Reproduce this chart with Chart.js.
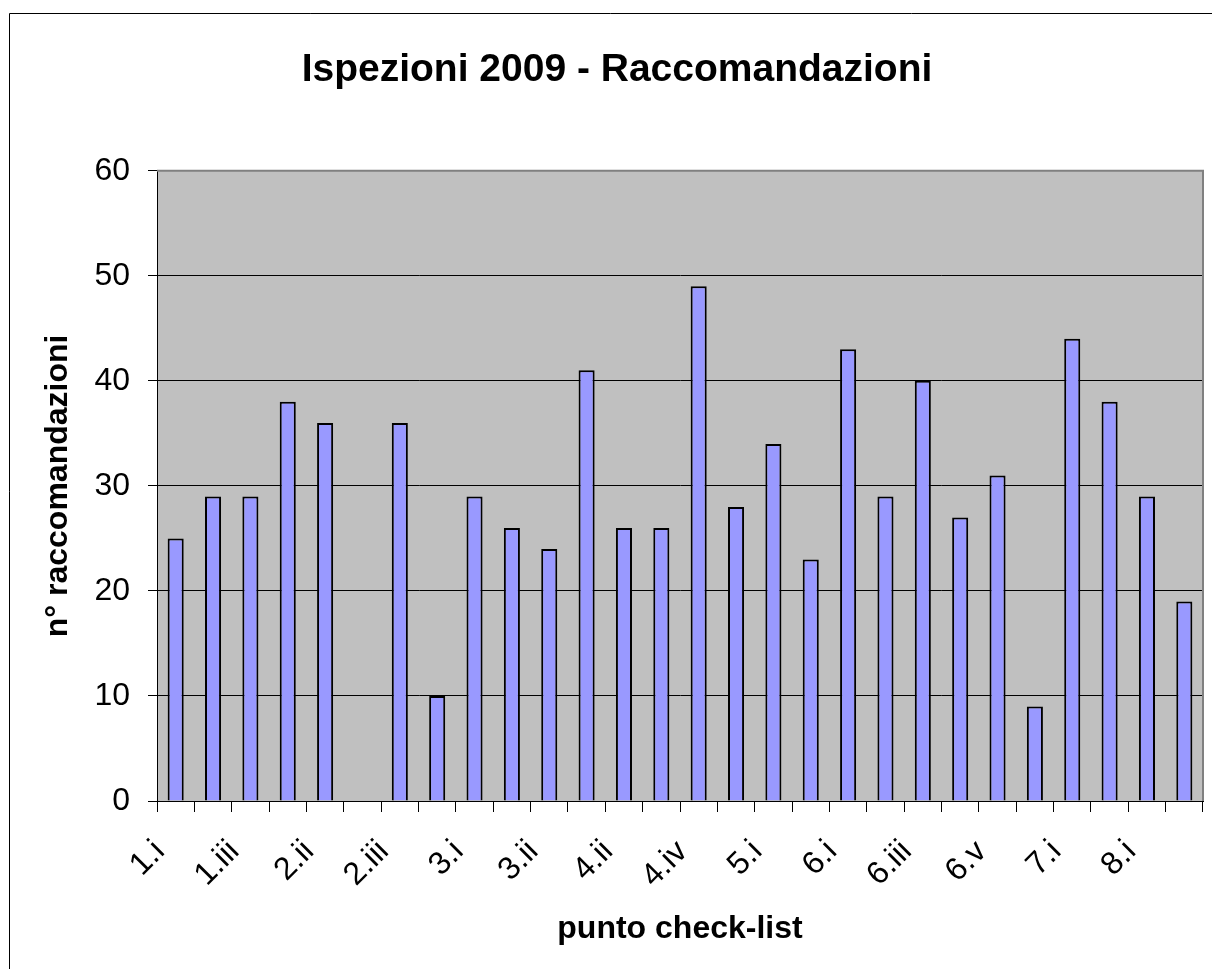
<!DOCTYPE html>
<html>
<head>
<meta charset="utf-8">
<script src="https://cdn.jsdelivr.net/npm/chart.js@4"></script>
<style>
  body { margin: 0; background: #fff; }
  canvas { display: block; }
</style>
</head>
<body>
<canvas id="chart" width="1212" height="969"></canvas>
<script>
// punti della check-list (mostrati uno sì e uno no, come nell'originale)
var categories = ['1.i', '1.ii', '1.iii', '2.i', '2.ii', '2.ii.b', '2.iii', '2.iv',
                  '3.i', '3.i.b', '3.ii', '4.i', '4.ii', '4.iii', '4.iv', '4.v',
                  '5.i', '5.ii', '6.i', '6.ii', '6.iii', '6.iv', '6.v', '6.vi',
                  '7.i', '7.ii', '8.i', '8.ii'];
var raccomandazioni = [25, 29, 29, 38, 36, 0, 36, 10,
                       29, 26, 24, 41, 26, 26, 49, 28,
                       34, 23, 43, 29, 40, 27, 31, 9,
                       44, 38, 29, 19];
var yTicks = [0, 10, 20, 30, 40, 50, 60];

var font = "'Liberation Sans', Arial, sans-serif";

// sfondo grigio dell'area del grafico e cornice esterna
var plotBg = {
    id: 'plotBg',
    beforeDraw: function(chart) {
        var c = chart.ctx, a = chart.chartArea;
        c.save();
        c.fillStyle = '#C0C0C0';
        c.fillRect(a.left, a.top, a.right - a.left, a.bottom - a.top);
        c.strokeStyle = '#000';
        c.lineWidth = 1;
        c.beginPath();
        c.moveTo(9.5, 969);
        c.lineTo(9.5, 13.5);
        c.lineTo(1212, 13.5);
        c.stroke();
        c.restore();
    },
    afterDatasetsDraw: function(chart) {
        var c = chart.ctx, a = chart.chartArea;
        c.save();
        c.strokeStyle = '#808080';
        c.lineWidth = 2;
        c.beginPath();
        c.moveTo(a.left, a.top);
        c.lineTo(a.right, a.top);
        c.lineTo(a.right, a.bottom);
        c.stroke();
        c.restore();
    }
};

var ctx = document.getElementById('chart').getContext('2d');
var myChart = new Chart(ctx, {
    type: 'bar',
    data: {
        labels: categories,
        datasets: [{
            label: 'n° raccomandazioni',
            data: raccomandazioni,
            backgroundColor: '#9999FF',
            borderColor: '#000',
            borderWidth: 2,
            barPercentage: 0.43,
            categoryPercentage: 1
        }]
    },
    options: {
        responsive: false,
        animation: false,
        layout: { padding: { left: 31, right: 9, top: 0, bottom: 0 } },
        plugins: {
            legend: { display: false },
            tooltip: { enabled: false },
            title: {
                display: true,
                text: 'Ispezioni 2009 - Raccomandazioni',
                color: '#000',
                font: { family: font, size: 39, weight: 'bold' },
                padding: { top: 47, bottom: 77 }
            }
        },
        scales: {
            x: {
                afterFit: function(scale) {
                    scale.height = 168;
                    scale.paddingLeft = 0;
                    scale.paddingRight = 0;
                },
                grid: { drawOnChartArea: false, color: '#000', tickLength: 11, offset: true },
                border: { color: '#000', width: 1 },
                ticks: {
                    autoSkip: false,
                    minRotation: 45,
                    maxRotation: 45,
                    padding: 21,
                    labelOffset: -16,
                    color: '#000',
                    font: { family: font, size: 32 },
                    callback: function(value, index) {
                        return index % 2 === 0 ? this.getLabelForValue(value) : '';
                    }
                },
                title: {
                    display: true,
                    text: 'punto check-list',
                    color: '#000',
                    font: { family: font, size: 32, weight: 'bold' },
                    padding: { top: 0, bottom: 21 }
                }
            },
            y: {
                min: yTicks[0],
                max: yTicks[yTicks.length - 1],
                afterFit: function(scale) { scale.width = 126; },
                afterBuildTicks: function(scale) {
                    scale.ticks = yTicks.map(function(v) { return { value: v }; });
                },
                grid: { color: '#000', lineWidth: 1, tickLength: 9 },
                border: { color: '#000', width: 1 },
                ticks: {
                    padding: 18,
                    color: '#000',
                    font: { family: font, size: 32 }
                },
                title: {
                    display: true,
                    text: 'n° raccomandazioni',
                    color: '#000',
                    font: { family: font, size: 32, weight: 'bold' },
                    padding: { top: 8, bottom: 0 }
                }
            }
        }
    },
    plugins: [plotBg]
});
</script>
</body>
</html>
